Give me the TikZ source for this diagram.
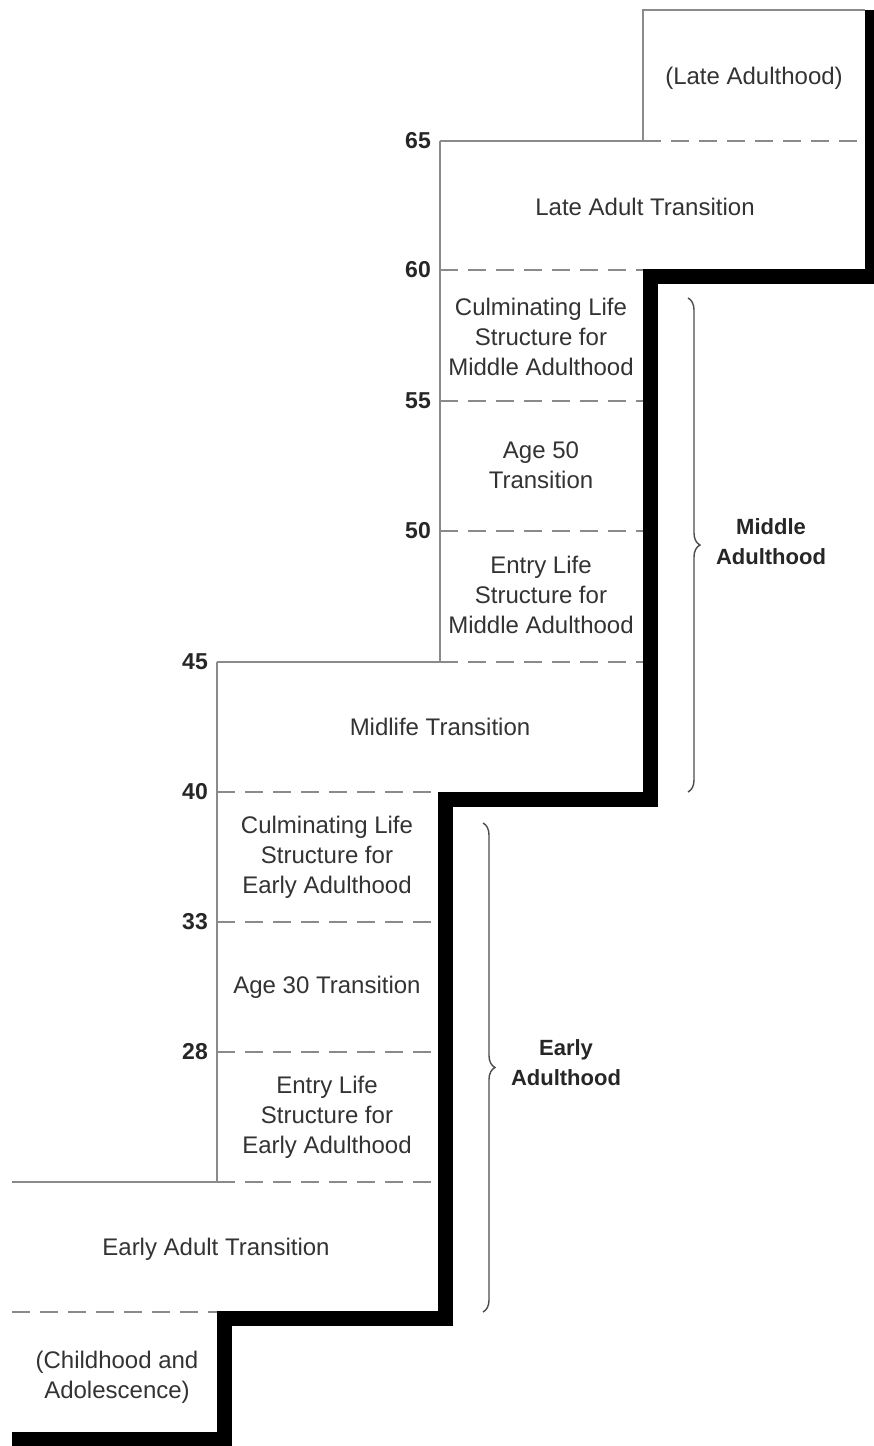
\documentclass[tikz,border=0pt]{standalone}
\usepackage{fontspec}
\setmainfont{Liberation Sans}
\usetikzlibrary{decorations.pathreplacing}
\definecolor{linegray}{HTML}{8A8A8A}
\definecolor{textgray}{HTML}{333333}
\begin{document}
\begin{tikzpicture}[x=1pt,y=-1pt,
  thinline/.style={draw=linegray,line width=1.6pt},
  dashline/.style={draw=linegray,line width=1.6pt,dash pattern=on 18pt off 10pt},
  stair/.style={draw=black,line width=15pt,line join=miter,line cap=butt},
  stage/.style={text=textgray,font=\fontsize{24}{30}\selectfont,align=center,inner sep=0pt},
  age/.style={text=black!85,font=\fontsize{23}{26}\selectfont\bfseries,anchor=east,inner sep=0pt},
  era/.style={text=black!85,font=\fontsize{22}{30}\selectfont\bfseries,align=center,inner sep=0pt},
  bracestyle/.style={draw=black!70,line width=1.4pt,decorate,decoration={brace,amplitude=12pt}}]
\useasboundingbox (0,0) rectangle (874,1446);
\fill[white] (0,0) rectangle (874,1446);

% thin box outlines
\draw[thinline] (643,141) -- (643,10) -- (865,10);
\draw[thinline] (440,141) -- (643,141);
\draw[dashline] (643,141) -- (865,141);
\draw[thinline] (440,141) -- (440,662);
\draw[dashline] (440,270) -- (643,270);
\draw[dashline] (440,401) -- (643,401);
\draw[dashline] (440,531) -- (643,531);
\draw[thinline] (217,662) -- (440,662);
\draw[dashline] (440,662) -- (643,662);
\draw[thinline] (217,662) -- (217,1182);
\draw[dashline] (217,792) -- (438,792);
\draw[dashline] (217,922) -- (438,922);
\draw[dashline] (217,1052) -- (438,1052);
\draw[thinline] (12,1182) -- (217,1182);
\draw[dashline] (217,1182) -- (438,1182);
\draw[dashline] (12,1312) -- (217,1312);

% thick staircase
\draw[stair] (12,1439) -- (224,1439) -- (224,1318) -- (445,1318) -- (445,799)
  -- (650,799) -- (650,276) -- (872,276) -- (872,10);

% age labels
\node[age] (a65) at (431,141) {65};
\node[age] (a60) at (431,270) {60};
\node[age] (a55) at (431,401) {55};
\node[age] (a50) at (431,531) {50};
\node[age] (a45) at (208,662) {45};
\node[age] (a40) at (208,792) {40};
\node[age] (a33) at (208,922) {33};
\node[age] (a28) at (208,1052) {28};

% stage texts
\node[stage] (late) at (754,78) {(Late Adulthood)};
\node[stage] (lat) at (645,207) {Late Adult Transition};
\node[stage] (clsm) at (541,337) {Culminating Life\\Structure for\\Middle Adulthood};
\node[stage] (a50t) at (541,465) {Age 50\\Transition};
\node[stage] (elsm) at (541,595) {Entry Life\\Structure for\\Middle Adulthood};
\node[stage] (mlt) at (440,727) {Midlife Transition};
\node[stage] (clse) at (327,857) {Culminating Life\\Structure for\\Early Adulthood};
\node[stage] (a30t) at (327,987) {Age 30 Transition};
\node[stage] (else) at (327,1117) {Entry Life\\Structure for\\Early Adulthood};
\node[stage] (eat) at (216,1249) {Early Adult Transition};
\node[stage] (child) at (117,1377) {(Childhood and\\Adolescence)};

% braces and era labels
\coordinate (mtop) at (688,298);
\coordinate (mbot) at (688,792);
\coordinate (etop) at (483,823);
\coordinate (ebot) at (483,1312);
\draw[bracestyle] (mtop) -- (mbot);
\draw[bracestyle] (etop) -- (ebot);
\node[era] (middle) at (771,542) {Middle\\Adulthood};
\node[era] (early) at (566,1063) {Early\\Adulthood};
\end{tikzpicture}
\end{document}
